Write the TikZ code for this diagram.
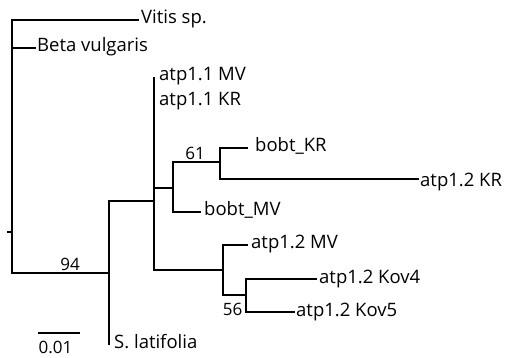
\documentclass[tikz,border=0pt]{standalone}
\usepackage{fontspec}
\setmainfont{Open Sans}
\begin{document}
\begin{tikzpicture}[x=1pt,y=-1pt,
  br/.style={line width=2.1pt, line cap=rect},
  lbl/.style={anchor=base west, inner sep=0pt, font=\fontsize{18.5}{20}\selectfont},
  bsv/.style={anchor=base, inner sep=0pt, font=\fontsize{17}{19}\selectfont}]
\useasboundingbox (0,0) rectangle (508,357);
% coordinates of the tree
\coordinate (tick) at (8,232);
\coordinate (rTick) at (12,232);
\coordinate (vitE) at (138,20);
\coordinate (betS) at (12,48);
\coordinate (betE) at (35,48);
\coordinate (rB) at (12,273);
\coordinate (n1B) at (109,273);
\coordinate (n1T) at (109,201);
\coordinate (n1S) at (109,344);
\coordinate (n2T) at (154,78);
\coordinate (n2a) at (154,201);
\coordinate (n2m) at (154,188);
\coordinate (n2B) at (154,270);
\coordinate (n3T) at (173,162);
\coordinate (n3B) at (173,212);
\coordinate (bmvE) at (200,212);
\coordinate (n4T) at (220,148);
\coordinate (n4B) at (220,179);
\coordinate (bkrE) at (247,148);
\coordinate (krE) at (418,179);
\coordinate (n5T) at (223,245);
\coordinate (n5B) at (223,295);
\coordinate (mvE) at (247,245);
\coordinate (n6T) at (246,279);
\coordinate (n6B) at (246,312);
\coordinate (k4E) at (316,279);
\coordinate (k5E) at (294,312);
\coordinate (sbL) at (38,333);
\coordinate (sbR) at (80,333);
% labels
\node[lbl] (vitis) at (141,23.5) {Vitis sp.};
\node[lbl] (beta) at (37,51.5) {Beta vulgaris};
\node[lbl] (a11mv) at (159,80) {atp1.1 MV};
\node[lbl] (a11kr) at (159,105) {atp1.1 KR};
\node[lbl] (bobtkr) at (255,151) {bobt\_KR};
\node[lbl] (a12kr) at (420,186) {atp1.2 KR};
\node[lbl] (bobtmv) at (204,215.5) {bobt\_MV};
\node[lbl] (a12mv) at (251,248.5) {atp1.2 MV};
\node[lbl] (kov4) at (319,283) {atp1.2 Kov4};
\node[lbl] (kov5) at (296,316) {atp1.2 Kov5};
\node[lbl] (slat) at (114,348) {S. latifolia};
\node[bsv] (b94) at (70,270.5) {94};
\node[bsv] (b61) at (195,159.5) {61};
\node[bsv, anchor=base east] (b56) at (242.5,315.5) {56};
\node[bsv] (scl) at (55.5,353) {0.01};
% branches
\draw[br] (tick) -- (rTick);
\draw[br] (vitE) -| (rB) -- (n1B);
\draw[br] (betS) -- (betE);
\draw[br] (n1T) -- (n1S);
\draw[br] (n1T) -- (n2a);
\draw[br] (n2T) -- (n2B);
\draw[br] (n2m) -| (n3T);
\draw[br] (n3T) -- (n3B) -- (bmvE);
\draw[br] (n3T) -| (n4B) -- (krE);
\draw[br] (n4T) -- (bkrE);
\draw[br] (n4T) -- (n4B);
\draw[br] (n2B) -| (n5B);
\draw[br] (n5T) -- (n5B);
\draw[br] (n5T) -- (mvE);
\draw[br] (n5B) -| (n6B) -- (k5E);
\draw[br] (n6T) -- (n6B);
\draw[br] (n6T) -- (k4E);
\draw[line width=1.3pt] (sbL) -- (sbR);
\end{tikzpicture}
\end{document}
